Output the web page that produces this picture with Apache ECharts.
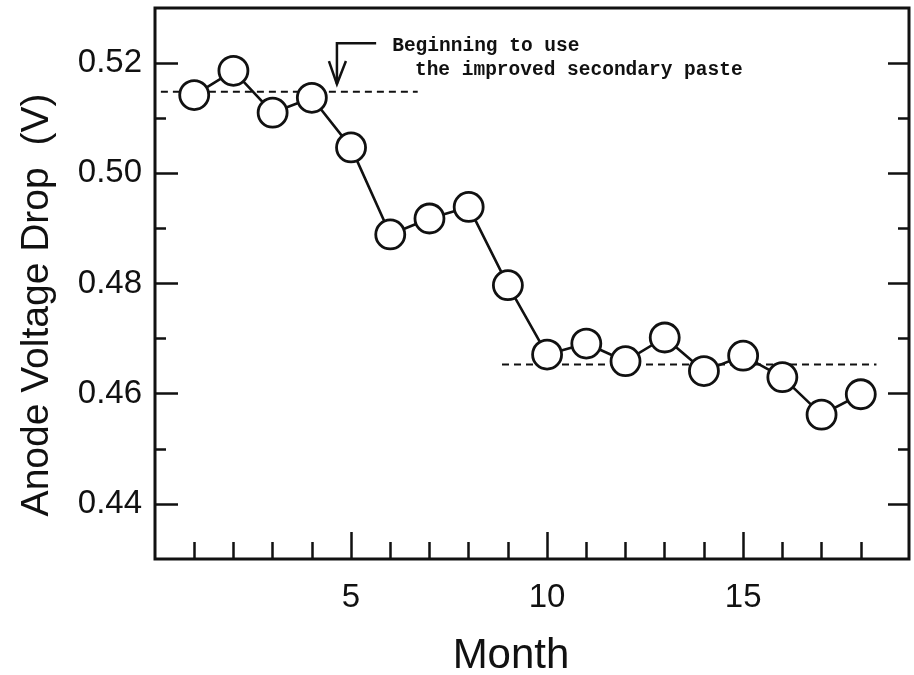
<!DOCTYPE html>
<html lang="en">
<head>
    <meta charset="UTF-8">
    <title>Anode voltage drop</title>
    <script src="https://cdn.jsdelivr.net/npm/echarts@6/dist/echarts.min.js"></script>
    <style>
        html, body { margin: 0; padding: 0; background: #fff; }
    </style>
</head>
<body>
<div id="main" style="width: 914px;height: 675px"></div>
<script type="text/javascript">
    // data
    var months = [1, 2, 3, 4, 5, 6, 7, 8, 9, 10, 11, 12, 13, 14, 15, 16, 17, 18];
    var voltage = [0.5142, 0.5186, 0.5110, 0.5137, 0.5047, 0.4889, 0.4918, 0.4939, 0.4797,
        0.4671, 0.4691, 0.4659, 0.4702, 0.4641, 0.4669, 0.4630, 0.4562, 0.4599];
    // mean level before / after the new paste (dashed lines)
    var beforeLevel = [[0.15, 0.5148], [6.7, 0.5148]];
    var afterLevel = [[8.85, 0.4653], [18.4, 0.4653]];
    // tick values
    var xMajorTicks = [5, 10, 15];
    var xMinorTicks = [1, 2, 3, 4, 6, 7, 8, 9, 11, 12, 13, 14, 16, 17, 18];
    var yMajorTicks = [0.44, 0.46, 0.48, 0.50, 0.52];
    var yMinorTicks = [0.45, 0.47, 0.49, 0.51];
    // arrow: month, value at elbow, value at tip
    var arrowMonth = 4.64, arrowTop = 0.5236, arrowTip = 0.5162;

    var ink = '#111';
    var xMin = 0, xMax = 19.23, yMin = 0.43, yMax = 0.53;

    var myChart = echarts.init(document.getElementById('main'));

    function xAxisOf(ticks, len, labels) {
        return {
            type: 'value', position: 'bottom', min: xMin, max: xMax,
            axisLine: {show: false, onZero: false},
            splitLine: {show: false},
            axisTick: {inside: true, length: len, customValues: ticks, lineStyle: {color: ink, width: 2.5}},
            axisLabel: labels ? {
                customValues: ticks, margin: 22, fontSize: 33, color: ink, fontFamily: 'Liberation Sans'
            } : {show: false}
        };
    }

    function yAxisOf(pos, ticks, len, labels) {
        return {
            type: 'value', position: pos, min: yMin, max: yMax,
            axisLine: {show: false, onZero: false},
            splitLine: {show: false},
            axisTick: {inside: true, length: len, customValues: ticks, lineStyle: {color: ink, width: 2.5}},
            axisLabel: labels ? {
                customValues: ticks, margin: 13, fontSize: 33, color: ink, fontFamily: 'Liberation Sans',
                formatter: function (v) { return v.toFixed(2); }
            } : {show: false}
        };
    }

    var points = months.map(function (m, i) { return [m, voltage[i]]; });

    var option = {
        backgroundColor: '#fff',
        animation: false,
        grid: {
            left: 155, right: 5, top: 8, bottom: 116,
            show: true, borderColor: ink, borderWidth: 3
        },
        xAxis: [xAxisOf(xMajorTicks, 27, true), xAxisOf(xMinorTicks, 17, false)],
        yAxis: [
            yAxisOf('left', yMajorTicks, 23, true),
            yAxisOf('left', yMinorTicks, 11, false),
            yAxisOf('right', yMajorTicks, 21, false),
            yAxisOf('right', yMinorTicks, 11, false)
        ],
        series: [
            {
                type: 'line', data: beforeLevel, symbol: 'none', silent: true,
                lineStyle: {color: ink, width: 1.8, type: [7, 5]}
            },
            {
                type: 'line', data: afterLevel, symbol: 'none', silent: true,
                lineStyle: {color: ink, width: 1.8, type: [7, 5]}
            },
            {
                name: 'Anode voltage drop',
                type: 'line',
                data: points,
                symbol: 'circle',
                symbolSize: 29,
                z: 5,
                lineStyle: {color: ink, width: 2.6},
                itemStyle: {color: '#fff', borderColor: ink, borderWidth: 2.8}
            }
        ]
    };
    myChart.setOption(option);

    // annotation placed from data coordinates
    function px(x, y) {
        return myChart.convertToPixel({xAxisIndex: 0, yAxisIndex: 0}, [x, y]);
    }
    var arrowTopPx = px(arrowMonth, arrowTop);
    var arrowElbowPx = px(arrowMonth + 1, arrowTop);
    var arrowTipPx = px(arrowMonth, arrowTip);
    var note1Px = px(6.05, 0.5231);
    var note2Px = px(6.63, 0.5187);
    var noteFont = 'bold 19.5px "Liberation Mono", "Courier New", monospace';

    myChart.setOption({
        graphic: [
            {
                type: 'polyline', silent: true, z: 10,
                shape: {points: [arrowElbowPx, arrowTopPx, arrowTipPx]},
                style: {stroke: ink, lineWidth: 2.5, fill: null}
            },
            {
                type: 'polyline', silent: true, z: 10,
                shape: {points: [[arrowTipPx[0] - 8, arrowTipPx[1] - 23], arrowTipPx, [arrowTipPx[0] + 9, arrowTipPx[1] - 23]]},
                style: {stroke: ink, lineWidth: 2.5, fill: null}
            },
            {
                type: 'text', silent: true, z: 10, x: note1Px[0], y: note1Px[1],
                style: {text: 'Beginning to use', font: noteFont, fill: ink, textAlign: 'left', textVerticalAlign: 'middle'}
            },
            {
                type: 'text', silent: true, z: 10, x: note2Px[0], y: note2Px[1],
                style: {text: 'the improved secondary paste', font: noteFont, fill: ink, textAlign: 'left', textVerticalAlign: 'middle'}
            },
            {
                type: 'text', silent: true, x: 511, y: 656,
                style: {text: 'Month', font: '42px "Liberation Sans", Arial, sans-serif', fill: ink, textAlign: 'center', textVerticalAlign: 'middle'}
            },
            {
                type: 'text', silent: true, x: 37, y: 305, rotation: Math.PI / 2,
                style: {text: 'Anode Voltage Drop  (V)', font: '39px "Liberation Sans", Arial, sans-serif', fill: ink, textAlign: 'center', textVerticalAlign: 'middle'}
            }
        ]
    });
</script>
</body>
</html>
